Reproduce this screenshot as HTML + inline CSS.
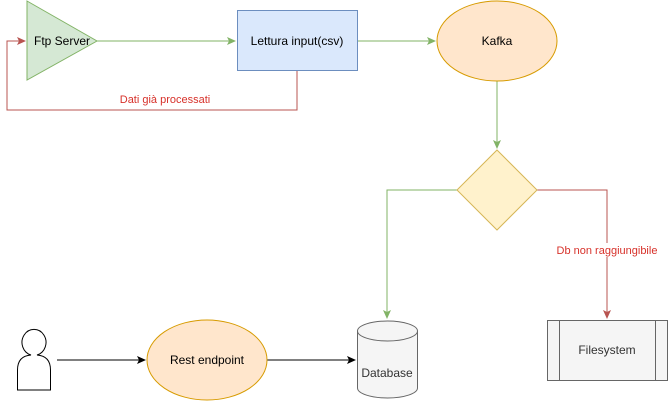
<!DOCTYPE html>
<html><head><style>body{margin:0;background:#fff}svg{display:block}text{font-family:"Liberation Sans",sans-serif;font-size:12px}</style></head><body>
<svg width="668" height="401" viewBox="0 0 668 401">
<defs>
<marker id="g" markerWidth="10" markerHeight="10" refX="8" refY="5" orient="auto" markerUnits="userSpaceOnUse"><path d="M0,1 L9,5 L0,9 L2,5z" fill="#82b366"/></marker>
<marker id="r" markerWidth="10" markerHeight="10" refX="8" refY="5" orient="auto" markerUnits="userSpaceOnUse"><path d="M0,1 L9,5 L0,9 L2,5z" fill="#b85450"/></marker>
<marker id="k" markerWidth="10" markerHeight="10" refX="8" refY="5" orient="auto" markerUnits="userSpaceOnUse"><path d="M0,1 L9,5 L0,9 L2,5z" fill="#000"/></marker>
</defs>
<g fill="none" stroke-width="1">
<path d="M97,41 H235" stroke="#82b366" marker-end="url(#g)"/>
<path d="M357,41 H435" stroke="#82b366" marker-end="url(#g)"/>
<path d="M297,70 V110 H7 V41 H25" stroke="#b85450" marker-end="url(#r)"/>
<path d="M497,81 V148" stroke="#82b366" marker-end="url(#g)"/>
<path d="M457,190 H387 V318" stroke="#82b366" marker-end="url(#g)"/>
<path d="M537,190 H607 V318" stroke="#b85450" marker-end="url(#r)"/>
<path d="M57,360 H145" stroke="#000" marker-end="url(#k)"/>
<path d="M267,360 H355" stroke="#000" marker-end="url(#k)"/>
</g>
<polygon points="27,1 97,41 27,80" fill="#d5e8d4" stroke="#82b366"/>
<rect x="237.5" y="10.5" width="120" height="60" fill="#dae8fc" stroke="#6c8ebf"/>
<ellipse cx="497" cy="41" rx="60" ry="40" fill="#ffe6cc" stroke="#d79b00"/>
<polygon points="497,150 537,190 497,230 457,190" fill="#fff2cc" stroke="#d6b656"/>
<ellipse cx="207" cy="360" rx="60" ry="40" fill="#ffe6cc" stroke="#d79b00"/>
<path d="M357.5,331 A30,10 0 0 1 417.5,331 V388 A30,10 0 0 1 357.5,388 Z" fill="#f5f5f5" stroke="#666"/>
<path d="M357.5,331 A30,10 0 0 0 417.5,331" fill="none" stroke="#666"/>
<rect x="547.5" y="320.5" width="120" height="60" fill="#f5f5f5" stroke="#666"/>
<path d="M559.5,320.5 V380.5 M655.5,320.5 V380.5" stroke="#666"/>
<path d="M17.5,390 V370 Q17.5,356 31,355 A12,13 0 1 1 37,355 Q50.5,356 50.5,370 V390 Z" fill="#fff" stroke="#000"/>
<text x="62" y="45" text-anchor="middle">Ftp Server</text>
<text x="297" y="45" text-anchor="middle">Lettura input(csv)</text>
<text x="497" y="45" text-anchor="middle">Kafka</text>
<text x="207" y="364" text-anchor="middle">Rest endpoint</text>
<text x="387" y="377" text-anchor="middle" fill="#333">Database</text>
<text x="607" y="354" text-anchor="middle" fill="#333">Filesystem</text>
<rect x="110" y="92" width="112" height="14" fill="#fff"/>
<text x="165" y="103" text-anchor="middle" fill="#d7312a" font-size="11" style="font-size:11px">Dati già processati</text>
<rect x="553" y="243" width="108" height="14" fill="#fff"/>
<text x="607" y="254" text-anchor="middle" fill="#d7312a" style="font-size:11px">Db non raggiungibile</text>
</svg>
</body></html>
